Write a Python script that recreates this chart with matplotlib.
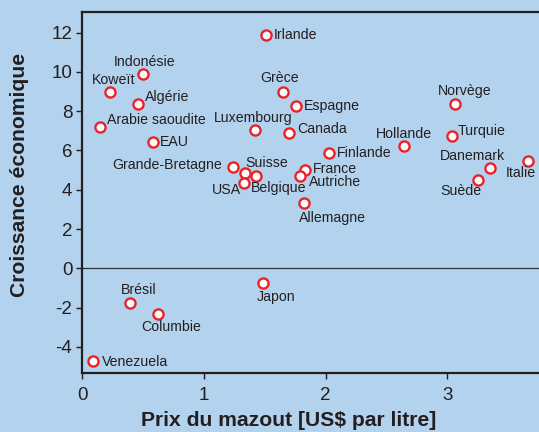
import matplotlib.pyplot as plt

# Oil price vs. economic growth, by country
pays = ["Irlande", "Indonésie", "Koweït", "Algérie", "Arabie saoudite", "EAU",
        "Grande-Bretagne", "Suisse", "Belgique", "USA", "Luxembourg", "Grèce",
        "Espagne", "Canada", "Finlande", "France", "Autriche", "Allemagne",
        "Hollande", "Norvège", "Turquie", "Danemark", "Suède", "Italie",
        "Brésil", "Columbie", "Japon", "Venezuela"]
prix = [1.51, 0.50, 0.23, 0.46, 0.15, 0.58,
        1.24, 1.34, 1.43, 1.33, 1.42, 1.65,
        1.76, 1.70, 2.03, 1.83, 1.79, 1.82,
        2.64, 3.06, 3.04, 3.35, 3.25, 3.66,
        0.39, 0.62, 1.49, 0.09]
croissance = [11.9, 9.9, 9.0, 8.35, 7.2, 6.45,
              5.15, 4.85, 4.7, 4.35, 7.05, 9.0,
              8.25, 6.9, 5.85, 5.0, 4.7, 3.3,
              6.25, 8.35, 6.75, 5.1, 4.5, 5.45,
              -1.75, -2.35, -0.75, -4.7]

# label placement: (dx px, dy px, ha) relative to the marker, dy positive = down
placement = {
    "Irlande": (8, 0, "left"), "Indonésie": (2, -12, "center"),
    "Koweït": (4, -12, "center"), "Algérie": (7, -7, "left"),
    "Arabie saoudite": (7, -7, "left"), "EAU": (7, 0, "left"),
    "Grande-Bretagne": (-11, -2, "right"), "Suisse": (0, -10, "left"),
    "Belgique": (-5, 12, "left"), "USA": (-3, 7, "right"),
    "Luxembourg": (-2, -12, "center"), "Grèce": (-3, -14, "center"),
    "Espagne": (8, 0, "left"), "Canada": (8, -4, "left"),
    "Finlande": (8, 0, "left"), "France": (8, -1, "left"),
    "Autriche": (9, 6, "left"), "Allemagne": (-5, 15, "left"),
    "Hollande": (0, -12, "center"), "Norvège": (10, -13, "center"),
    "Turquie": (5, -5, "left"), "Danemark": (-18, -12, "center"),
    "Suède": (-17, 11, "center"), "Italie": (-7, 12, "center"),
    "Brésil": (9, -13, "center"), "Columbie": (14, 13, "center"),
    "Japon": (13, 14, "center"), "Venezuela": (9, 1, "left"),
}

bg = "#b3d2ee"
txt = "#231f20"
plt.rcParams['font.family'] = ['Liberation Sans', 'DejaVu Sans']
plt.rcParams['axes.unicode_minus'] = False

fig = plt.figure(figsize=(5.39, 4.32), dpi=100, facecolor=bg)
ax = fig.add_axes([82 / 539, 59 / 432, 1 - 82 / 539, 361 / 432])
ax.set_facecolor(bg)

ax.axhline(0, color="#333333", lw=0.9, zorder=1)
ax.plot(prix, croissance, "o", ls="none", ms=7.3, mfc="white", mec="#e8232a",
        mew=1.7, zorder=3, clip_on=False)

for p, x, y in zip(pays, prix, croissance):
    dx, dy, ha = placement[p]
    ax.annotate(p, (x, y), xytext=(dx * 0.72, -dy * 0.72), textcoords="offset points",
                ha=ha, va="center", fontsize=10.2, color=txt)

ax.set_xlim(0, 3.752)
ax.set_ylim(-5.33, 13.05)
ax.set_xticks([0, 1, 2, 3])
ax.set_yticks(range(-4, 13, 2))
ax.tick_params(direction="out", length=4, width=1, colors=txt, labelsize=13.5, pad=3)
ax.tick_params(axis="x", pad=6)

for s in ("left", "bottom", "top"):
    ax.spines[s].set_linewidth(1.6)
    ax.spines[s].set_color(txt)
ax.spines["right"].set_visible(False)

ax.set_xlabel("Prix du mazout [US$ par litre]", fontsize=15.2, fontweight="bold",
              color=txt, va="center")
ax.set_ylabel("Croissance économique", fontsize=15.2, fontweight="bold",
              color=txt, va="center")
ax.xaxis.set_label_coords(0.452, -0.131)
ax.yaxis.set_label_coords(-0.136, 0.548)

fig.savefig("out.png", dpi=100, facecolor=bg)
